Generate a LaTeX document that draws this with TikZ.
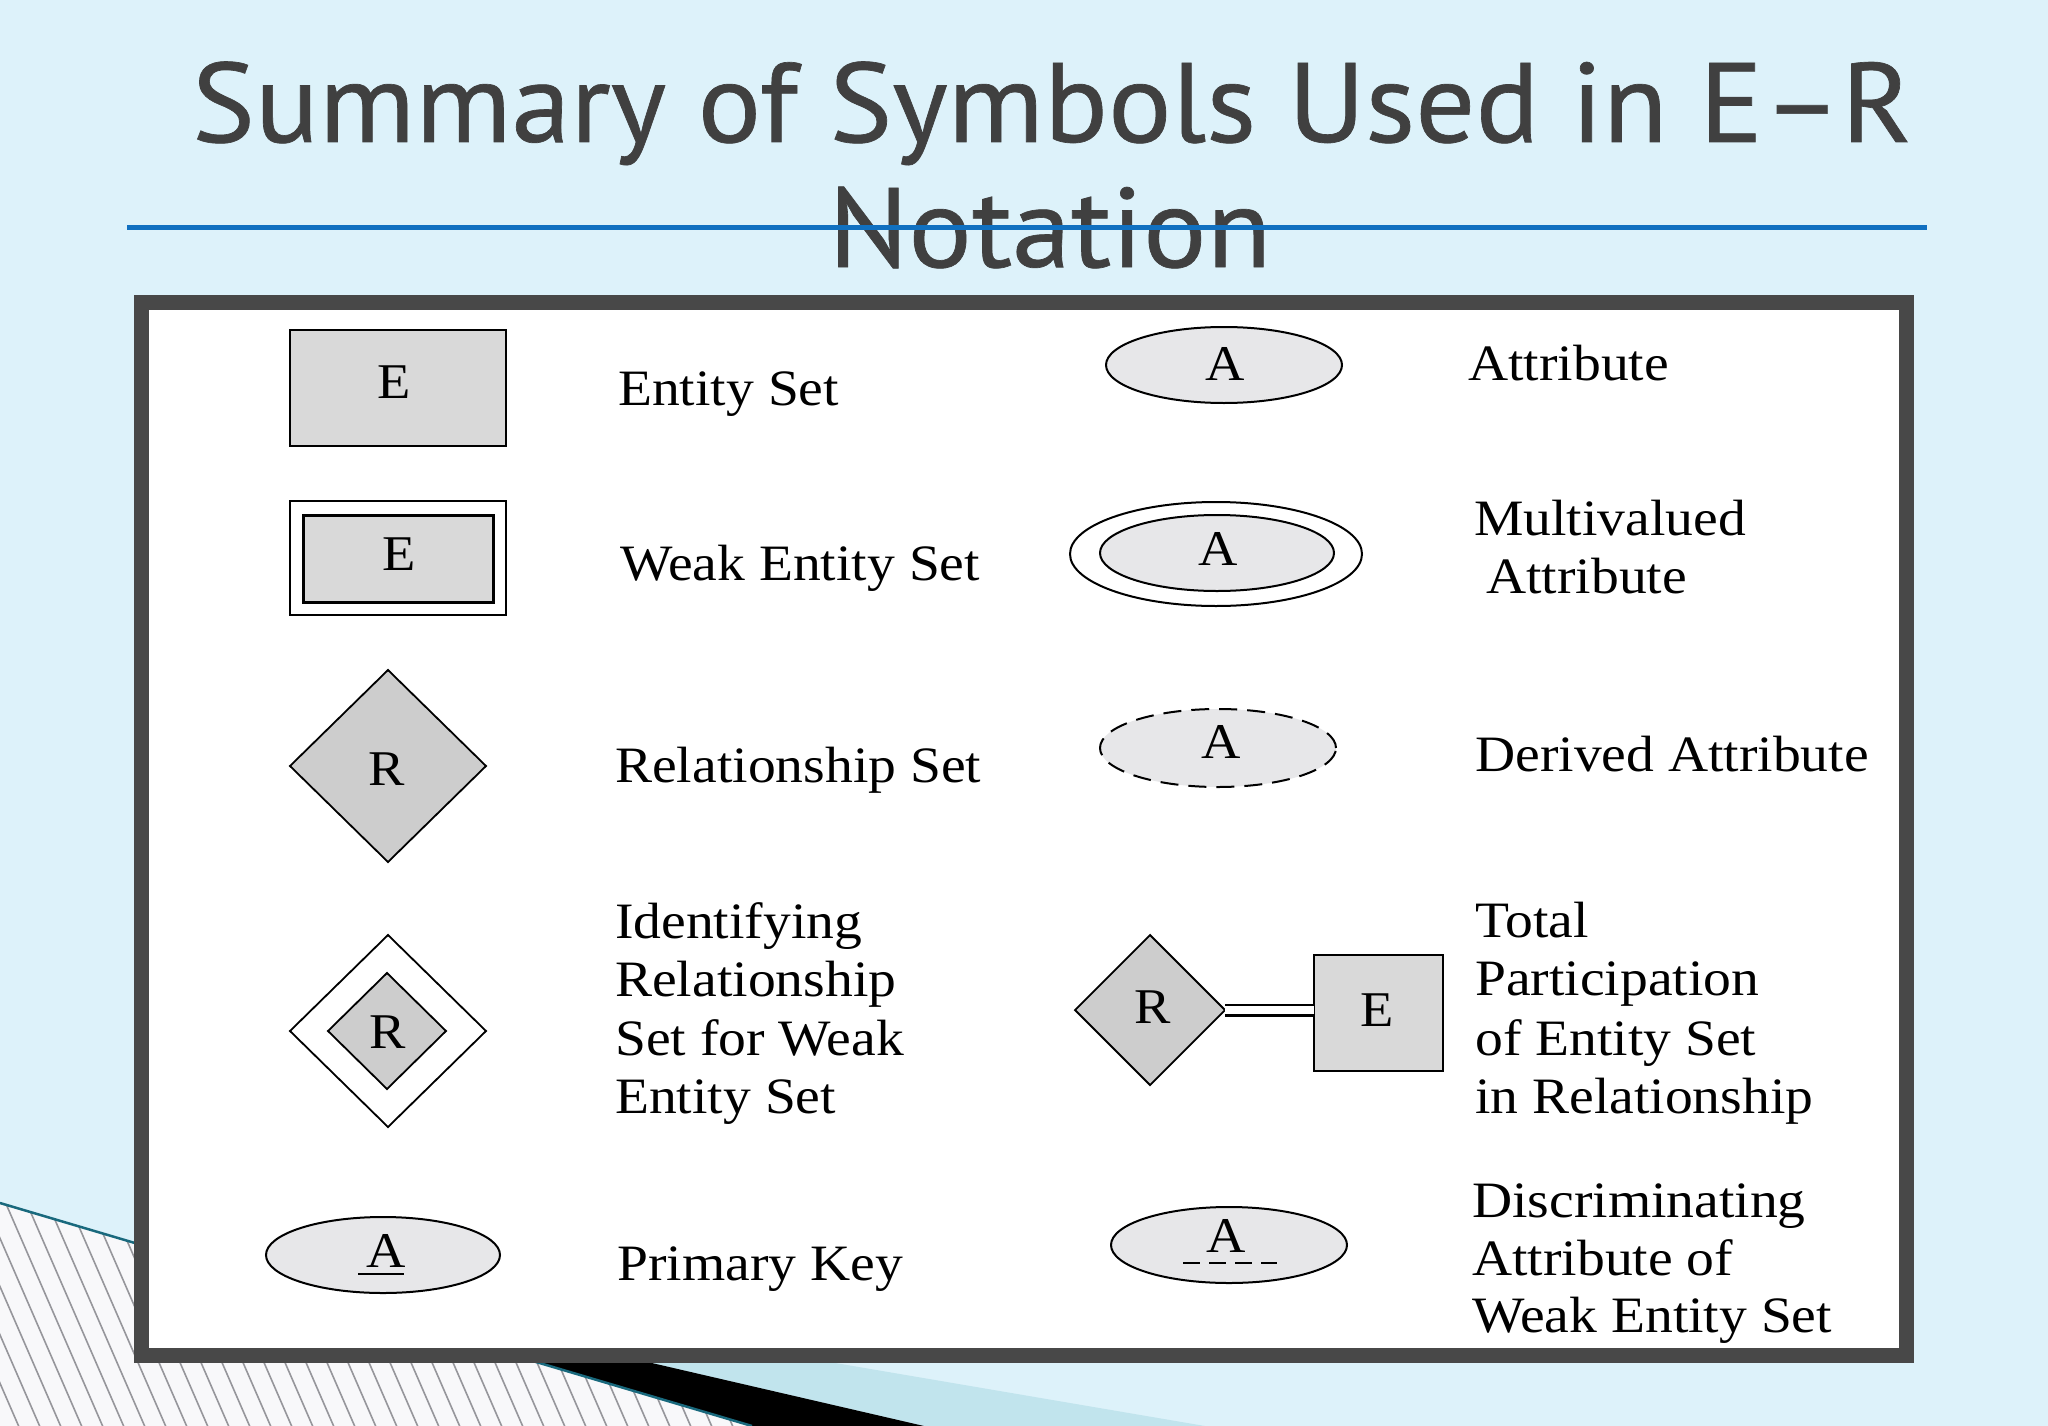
\documentclass[tikz,border=0pt]{standalone}
\usepackage{fontspec}
\usetikzlibrary{shapes.geometric}
\newfontfamily\titlefont[FakeStretch=1.05,FakeBold=0.6]{PT Sans}
\newfontfamily\bodyfont[FakeStretch=1.09]{Liberation Serif}
\definecolor{bg}{RGB}{221,242,250}
\definecolor{midblue}{RGB}{193,228,237}
\definecolor{tealline}{RGB}{25,105,125}
\definecolor{framegray}{RGB}{72,72,72}
\definecolor{titlegray}{RGB}{64,64,64}
\definecolor{rulebl}{RGB}{16,112,192}
\definecolor{efill}{RGB}{217,217,217}
\definecolor{rfill}{RGB}{205,205,205}
\definecolor{afill}{RGB}{231,231,233}
\definecolor{hatchc}{RGB}{150,150,155}
\definecolor{hatchbg}{RGB}{248,248,250}
\tikzset{
  lab/.style={anchor=base west, inner sep=0pt, font=\bodyfont\fontsize{51}{60}\selectfont},
  sym/.style={anchor=base, inner sep=0pt, font=\bodyfont\fontsize{50}{60}\selectfont},
  entbox/.style={draw, fill=efill, line width=2.5pt, inner sep=0pt, outer sep=0pt},
  relbox/.style={diamond, draw, fill=rfill, line width=1.8pt, inner sep=0pt, outer sep=0pt},
  attbox/.style={ellipse, draw, fill=afill, line width=2pt, inner sep=0pt, outer sep=0pt},
}
\begin{document}
\begin{tikzpicture}[x=1pt,y=-1pt]
\useasboundingbox (0,0) rectangle (2048,1426);
\fill[bg] (0,0) rectangle (2048,1426);
% bottom-left decoration
\fill[midblue] (140,1244.5) -- (1205,1426) -- (924,1426) -- cycle;
\fill[black] (140,1244.5) -- (924,1426) -- (752,1426) -- cycle;
\begin{scope}
  \clip (0,1203) -- (752,1426) -- (0,1426) -- cycle;
  \fill[hatchbg] (0,1150) rectangle (800,1426);
  \foreach \i in {-8,...,38} \draw[hatchc, line width=1.6pt] (\i*21,1190) -- ++(110,253);
\end{scope}
\draw[tealline, line width=2.5pt] (0,1203) -- (752,1426);
% frame
\draw[framegray, line width=15pt, fill=white] (141,302.5) rectangle (1906,1355);
% title
\node[anchor=base, inner sep=0pt, text=titlegray, font=\titlefont\fontsize{113}{125}\selectfont] (title1) at (1052,142) {Summary of Symbols Used in E–R};
\node[anchor=base, inner sep=0pt, text=titlegray, font=\titlefont\fontsize{113}{125}\selectfont] (title2) at (1050,267) {Notation};
\draw[rulebl, line width=5pt] (127,227) -- (1927,227);

% ---- left column
\node[entbox, minimum width=216pt, minimum height=116pt] (ent) at (398,388) {};
\node[sym] (entE) at (394,398) {E};
\node[lab] (entT) at (618,405) {Entity Set};

\node[draw, fill=white, line width=2pt, minimum width=216pt, minimum height=114pt, inner sep=0pt, outer sep=0pt] (weako) at (398,558) {};
\node[entbox, line width=3pt, minimum width=190pt, minimum height=87pt] (weaki) at (398,558.5) {};
\node[sym] (weakE) at (399,570) {E};
\node[lab] (weakT) at (620,580) {Weak Entity Set};

\node[relbox, minimum width=196pt, minimum height=192pt] (rel) at (388,766) {};
\node[sym] (relR) at (387,785) {R};
\node[lab] (relT) at (615,782) {Relationship Set};

\node[relbox, fill=white, minimum width=196pt, minimum height=192pt] (idro) at (388,1031) {};
\node[relbox, minimum width=118pt, minimum height=116pt] (idri) at (387,1031) {};
\node[sym] (idrR) at (388,1048) {R};
\node[lab] (idrT1) at (615,938) {Identifying};
\node[lab] (idrT2) at (615,996) {Relationship};
\node[lab] (idrT3) at (615,1055) {Set for Weak};
\node[lab] (idrT4) at (615,1113) {Entity Set};

\node[attbox, minimum width=234pt, minimum height=76pt] (pk) at (383,1255) {};
\node[sym] (pkA) at (386,1267) {A};
\draw[line width=2.5pt] (358,1274) -- (404,1274);
\node[lab] (pkT) at (617,1280) {Primary Key};

% ---- right column
\node[attbox, minimum width=236pt, minimum height=76pt] (att) at (1224,365) {};
\node[sym] (attA) at (1225,380) {A};
\node[lab] (attT) at (1468,380) {Attribute};

\node[attbox, fill=white, minimum width=292pt, minimum height=104pt] (mvo) at (1216,554) {};
\node[attbox, minimum width=234pt, minimum height=76pt] (mvi) at (1217,553) {};
\node[sym] (mvA) at (1218,565) {A};
\node[lab] (mvT1) at (1474,535) {Multivalued};
\node[lab] (mvT2) at (1486,593) {Attribute};

\node[attbox, dash pattern=on 18pt off 10pt, minimum width=236pt, minimum height=78pt] (der) at (1218,748) {};
\node[sym] (derA) at (1221,758) {A};
\node[lab] (derT) at (1475,771) {Derived Attribute};

\node[relbox, minimum width=150pt, minimum height=150pt] (tpr) at (1150,1010) {};
\node[sym] (tprR) at (1153,1023) {R};
\node[entbox, minimum width=129pt, minimum height=116pt] (tpe) at (1378.5,1013) {};
\node[sym] (tpeE) at (1377,1026) {E};
\draw[double=white, double distance=8pt, line width=2.5pt] (tpr.east) -- (tpr.east -| tpe.west);
\node[lab] (tpT1) at (1475,937) {Total};
\node[lab] (tpT2) at (1475,995) {Participation};
\node[lab] (tpT3) at (1475,1055) {of Entity Set};
\node[lab] (tpT4) at (1475,1113) {in Relationship};

\node[attbox, minimum width=236pt, minimum height=76pt] (dis) at (1229,1245) {};
\node[sym] (disA) at (1226,1252) {A};
\draw[line width=2.5pt, dash pattern=on 17pt off 9pt] (1183,1263) -- (1277,1263);
\node[lab] (disT1) at (1472,1217) {Discriminating};
\node[lab] (disT2) at (1472,1275) {Attribute of};
\node[lab] (disT3) at (1472,1332) {Weak Entity Set};
\end{tikzpicture}
\end{document}
